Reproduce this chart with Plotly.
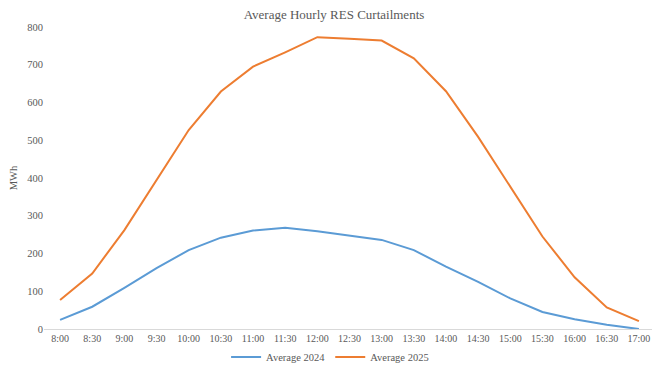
import plotly.graph_objects as go

times = ["8:00", "8:30", "9:00", "9:30", "10:00", "10:30", "11:00", "11:30", "12:00",
         "12:30", "13:00", "13:30", "14:00", "14:30", "15:00", "15:30", "16:00", "16:30", "17:00"]
avg_2024 = [24, 59, 109, 161, 209, 242, 261, 268, 259, 248, 236, 209, 165, 125, 81, 45, 26, 11, 0]
avg_2025 = [77, 147, 262, 396, 527, 629, 695, 733, 773, 769, 764, 717, 630, 509, 377, 245, 137, 57, 21]

FONT = "Times New Roman, Liberation Serif, serif"
GRAY = "#595959"

# The page body adds an 8px offset; figure is sized to fit the remaining viewport.
W, H = 652, 361

fig = go.Figure()
fig.add_trace(go.Scatter(x=times, y=avg_2024, mode="lines", name="Average 2024",
                         line=dict(color="#5B9BD5", width=2)))
fig.add_trace(go.Scatter(x=times, y=avg_2025, mode="lines", name="Average 2025",
                         line=dict(color="#ED7D31", width=2)))

fig.update_layout(
    width=W, height=H,
    paper_bgcolor="white", plot_bgcolor="white",
    margin=dict(l=36, r=5, t=19, b=40, autoexpand=False),
    title=dict(text="Average Hourly RES Curtailments", x=0.5, xanchor="center",
               y=1 - 6.5 / H, yanchor="middle", font=dict(family=FONT, size=13, color=GRAY)),
    font=dict(family=FONT, size=10.5, color=GRAY),
    showlegend=True,
    legend=dict(orientation="h", xref="container", x=0.494, xanchor="center",
                yref="container", y=12.0 / H, yanchor="middle",
                font=dict(family=FONT, size=10.5, color=GRAY), itemwidth=30,
                bgcolor="rgba(0,0,0,0)"),
    xaxis=dict(type="category", range=[-0.5, 18.5], showgrid=False, showline=True,
               linecolor="#d9d9d9", linewidth=1, ticks="", zeroline=False, automargin=False,
               tickfont=dict(family=FONT, size=10, color=GRAY)),
    yaxis=dict(range=[0, 800], dtick=100, showgrid=False, showline=False, zeroline=False,
               ticks="", automargin=False, tickfont=dict(family=FONT, size=10.5, color=GRAY),
               title=dict(text="MWh", font=dict(family=FONT, size=10.5, color=GRAY), standoff=8)),
)

fig.write_html("out.html")
